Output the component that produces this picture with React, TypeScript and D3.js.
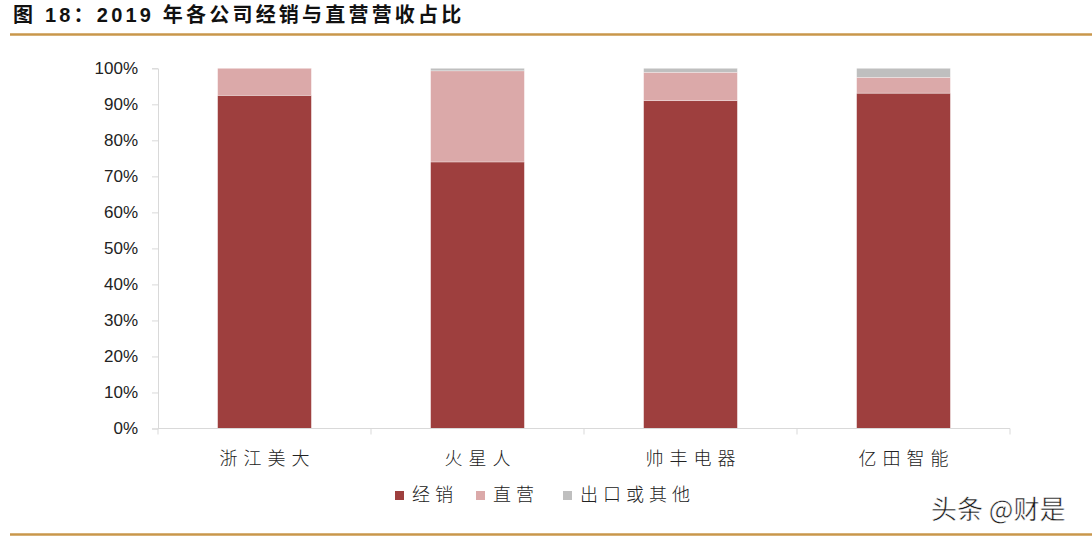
import React, { useRef, useEffect } from "react";
import * as d3 from "d3";

const categories = ["浙江美大", "火星人", "帅丰电器", "亿田智能"];
const seriesNames = ["经销", "直营", "出口或其他"];
const distribution = [92.5, 74.0, 91.0, 93.1];
const direct = [7.5, 25.3, 7.9, 4.4];
const other = [0, 0.7, 1.1, 2.5];
const yTicks = [0, 10, 20, 30, 40, 50, 60, 70, 80, 90, 100];
const colors = ["#9E3F3E", "#DBA9A9", "#BFBFBF"];

const W = 1092;
const H = 538;

const App: React.FC = () => {
  const svgRef = useRef<SVGSVGElement>(null);

  useEffect(() => {
    const svg = d3.select(svgRef.current);
    svg.selectAll("*").remove();

    const left = 158, right = 1010, top = 68.3, bottom = 428.5;

    const x = d3.scaleBand<string>().domain(categories).range([left, right]).paddingInner(0.56).paddingOuter(0.28);
    const y = d3.scaleLinear().domain([0, 100]).range([bottom, top]);

    // title + gold rules
    svg.append("text")
      .attr("x", 13).attr("y", 21.5)
      .attr("font-family", "'Liberation Sans', 'Noto Sans CJK SC', sans-serif")
      .attr("font-weight", "bold").attr("font-size", 20).attr("letter-spacing", 3.2).attr("fill", "#111")
      .text("图 18：2019 年各公司经销与直营营收占比");
    svg.append("line").attr("x1", 10).attr("x2", W).attr("y1", 34.5).attr("y2", 34.5)
      .attr("stroke", "#C9974B").attr("stroke-width", 2.5);
    svg.append("line").attr("x1", 10).attr("x2", W).attr("y1", 534.5).attr("y2", 534.5)
      .attr("stroke", "#C9974B").attr("stroke-width", 2.5);

    const rows = categories.map((c, i) => ({ cat: c, v0: distribution[i], v1: direct[i], v2: other[i] }));
    const stack = d3.stack<any>().keys(["v0", "v1", "v2"])(rows);

    stack.forEach((layer, li) => {
      svg.append("g").selectAll("rect")
        .data(layer)
        .enter()
        .append("rect")
        .attr("x", d => x(d.data.cat)!)
        .attr("width", x.bandwidth())
        .attr("y", d => y(d[1]))
        .attr("height", d => Math.max(0, y(d[0]) - y(d[1])))
        .attr("fill", colors[li])
        .attr("stroke", "#fff")
        .attr("stroke-opacity", 0.5)
        .attr("stroke-width", 0.6);
    });

    // y axis
    const yAxis = svg.append("g")
      .attr("transform", `translate(${left},0)`)
      .call(d3.axisLeft(y).tickValues(yTicks).tickSize(6).tickPadding(14).tickFormat(d => `${d}%`));
    yAxis.selectAll("path, line").attr("stroke", "#D9D9D9");
    yAxis.selectAll("text")
      .attr("font-family", "'Liberation Sans', Arial, sans-serif")
      .attr("font-size", 17).attr("fill", "#222");

    // x axis
    const xAxis = svg.append("g").attr("transform", `translate(0,${bottom})`);
    xAxis.append("line").attr("x1", left).attr("x2", right).attr("stroke", "#D9D9D9");
    const bounds = d3.range(categories.length + 1).map(i => left + i * ((right - left) / categories.length));
    xAxis.selectAll("line.tk").data(bounds).enter().append("line")
      .attr("class", "tk")
      .attr("x1", d => d).attr("x2", d => d).attr("y1", 0).attr("y2", 6)
      .attr("stroke", "#D9D9D9");
    xAxis.selectAll("text").data(categories).enter().append("text")
      .attr("x", d => x(d)! + x.bandwidth() / 2 + 3)
      .attr("y", 36)
      .attr("text-anchor", "middle")
      .attr("font-family", "'Noto Sans CJK SC', sans-serif")
      .attr("font-size", 18).attr("font-weight", 300).attr("letter-spacing", 6).attr("fill", "#222")
      .text(d => d);

    // legend
    const legendX = [395, 476, 563];
    const lg = svg.append("g");
    seriesNames.forEach((name, i) => {
      lg.append("rect").attr("x", legendX[i]).attr("y", 491).attr("width", 9).attr("height", 9).attr("fill", colors[i]);
      lg.append("text")
        .attr("x", legendX[i] + 17).attr("y", 501)
        .attr("font-family", "'Noto Sans CJK SC', sans-serif")
        .attr("font-size", 18).attr("font-weight", 300).attr("letter-spacing", 5).attr("fill", "#222")
        .text(name);
    });

    // watermark
    svg.append("text")
      .attr("x", 931).attr("y", 519)
      .attr("font-family", "'Noto Sans CJK SC', sans-serif")
      .attr("font-size", 26).attr("fill", "#1a1a1a")
      .attr("stroke", "#fff").attr("stroke-width", 0.5)
      .text("头条 @财是");
  }, []);

  return (
    <div style={{ position: "fixed", left: 0, top: 0, width: W, height: H, background: "#fff" }}>
      <svg ref={svgRef} width={W} height={H} style={{ display: "block" }}></svg>
    </div>
  );
};

export default App;
